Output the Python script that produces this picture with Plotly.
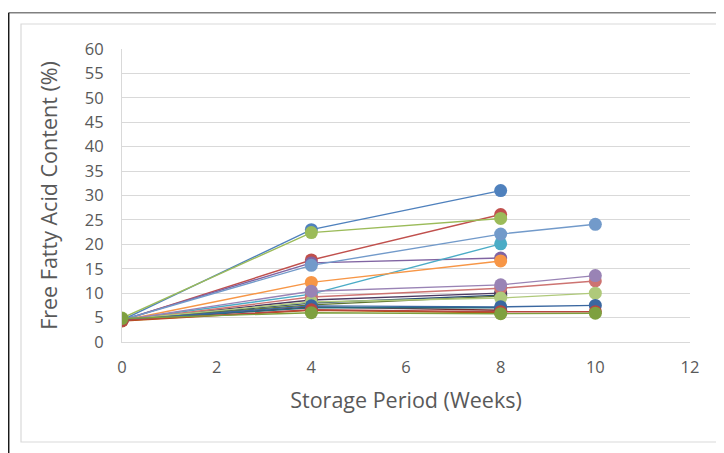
import plotly.graph_objects as go

weeks_short = [0, 4, 8]
weeks_long = [0, 4, 8, 10]

# Free fatty acid content (%) per sample
s01 = [4.5, 23.0, 31.0]
s02 = [4.4, 16.8, 26.1]
s03 = [4.9, 22.4, 25.3]
s04 = [4.5, 16.2, 17.2]
s05 = [4.5, 9.8, 20.1]
s06 = [4.4, 12.2, 16.6]
s07 = [4.5, 8.0, 9.6]
s08 = [4.4, 7.2, 6.5]
s09 = [4.6, 7.6, 9.4]
s10 = [4.5, 8.6, 10.0]
s11 = [4.5, 7.0, 7.0]
s12 = [4.3, 6.5, 6.0]
s13 = [4.5, 15.7, 22.1, 24.1]
s14 = [4.4, 9.2, 11.0, 12.5]
s15 = [4.6, 8.2, 9.0, 10.0]
s16 = [4.5, 10.4, 11.7, 13.6]
s17 = [4.5, 7.4, 7.2, 7.5]
s18 = [4.4, 6.6, 6.2, 6.2]
s19 = [4.8, 6.0, 5.8, 5.9]

series = [
    (weeks_short, s01, "#4F81BD"),
    (weeks_short, s02, "#C0504D"),
    (weeks_short, s03, "#9BBB59"),
    (weeks_short, s04, "#8064A2"),
    (weeks_short, s05, "#4BACC6"),
    (weeks_short, s06, "#F79646"),
    (weeks_short, s07, "#2C4D75"),
    (weeks_short, s08, "#772C2A"),
    (weeks_short, s09, "#5F7530"),
    (weeks_short, s10, "#4D3B62"),
    (weeks_short, s11, "#276A7C"),
    (weeks_short, s12, "#B65708"),
    (weeks_long, s13, "#729ACA"),
    (weeks_long, s14, "#CD7371"),
    (weeks_long, s15, "#AFC97A"),
    (weeks_long, s16, "#9983B5"),
    (weeks_long, s17, "#3A67A0"),
    (weeks_long, s18, "#B84541"),
    (weeks_long, s19, "#7EA03F"),
]

fig = go.Figure()
for x, y, c in series:
    fig.add_trace(go.Scatter(
        x=x, y=y, mode="lines+markers",
        line=dict(color=c, width=1.4),
        marker=dict(color=c, size=13, line=dict(width=0)),
        showlegend=False,
    ))

# page body has an 8px margin, so the figure is offset by 8px
OFF = 8
W, H = 724 - OFF, 453 - OFF
L, R, T, B = 122 - OFF, 690 - OFF, 49 - OFF, 342 - OFF


def px(xp):
    return (xp - OFF - L) / (R - L)


def py(yp):
    return (B - (yp - OFF)) / (B - T)


shapes = [
    # inner light frame
    dict(type="rect", xref="paper", yref="paper",
         x0=px(21), x1=px(723), y0=py(442), y1=py(24),
         line=dict(color="#D9D9D9", width=1.2), fillcolor="rgba(0,0,0,0)", layer="below"),
    # outer dark frame (top + left)
    dict(type="line", xref="paper", yref="paper",
         x0=px(8.7), x1=px(740), y0=py(12.7), y1=py(12.7),
         line=dict(color="#808080", width=1.5)),
    dict(type="line", xref="paper", yref="paper",
         x0=px(8.7), x1=px(8.7), y0=py(12.7), y1=py(470),
         line=dict(color="#1a1a1a", width=1.5)),
]

font_family = "Open Sans, Liberation Sans, sans-serif"
fig.update_layout(
    width=W, height=H,
    margin=dict(l=L, r=W - R, t=T, b=H - B),
    paper_bgcolor="white", plot_bgcolor="white",
    font=dict(family=font_family, color="#595959"),
    shapes=shapes,
    xaxis=dict(
        range=[0, 12], dtick=2, tick0=0, showgrid=False,
        showline=True, linecolor="#D9D9D9", linewidth=1,
        zeroline=False,
        ticks="outside", ticklen=10, tickcolor="rgba(0,0,0,0)",
        tickfont=dict(size=16.5, color="#595959"),
        title=dict(text="Storage Period (Weeks)", font=dict(size=21.5, color="#595959"), standoff=16),
    ),
    yaxis=dict(
        range=[0, 60], dtick=5, tick0=0, showgrid=True, gridcolor="#D9D9D9", gridwidth=1,
        showline=True, linecolor="#D9D9D9", linewidth=1,
        zeroline=False,
        ticks="outside", ticklen=14, tickcolor="rgba(0,0,0,0)",
        tickfont=dict(size=16.5, color="#595959"),
        title=dict(text="Free Fatty Acid Content (%)", font=dict(size=21.5, color="#595959"), standoff=21),
    ),
)

fig.write_html("out.html")
